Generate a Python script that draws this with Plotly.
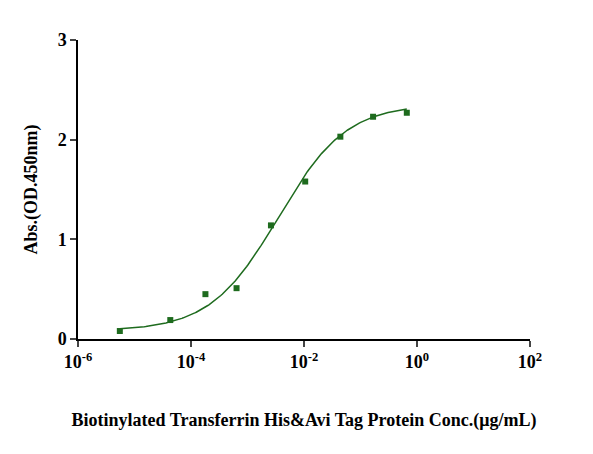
import numpy as np
import plotly.graph_objects as go

conc = [5.5e-6, 4.3e-5, 1.8e-4, 6.4e-4, 2.6e-3, 1.05e-2, 4.4e-2, 0.167, 0.66]
absv = [0.08, 0.19, 0.45, 0.51, 1.14, 1.58, 2.03, 2.23, 2.27]
tickvals = [1e-6, 1e-4, 1e-2, 1e0, 1e2]
ticktext = ["<b>10<sup>-6</sup></b>", "<b>10<sup>-4</sup></b>", "<b>10<sup>-2</sup></b>",
            "<b>10<sup>0</sup></b>", "<b>10<sup>2</sup></b>"]
ytickvals = [0, 1, 2, 3]
yticktext = ["<b>0</b>", "<b>1</b>", "<b>2</b>", "<b>3</b>"]

# 4PL fit parameters (estimated)
bottom, top, ec50, hill = 0.08, 2.36, 3.5e-3, 0.72
xf = np.logspace(np.log10(conc[0]), np.log10(conc[-1]), 200)
yf = bottom + (top - bottom) / (1 + (ec50 / xf) ** hill)

green = "#1e6b1e"
fig = go.Figure()
fig.add_trace(go.Scatter(x=xf, y=yf, mode="lines", line=dict(color=green, width=1.5), showlegend=False))
fig.add_trace(go.Scatter(x=conc, y=absv, mode="markers",
                         marker=dict(symbol="square", size=6, color=green), showlegend=False))
font = dict(family="Liberation Serif", size=18, color="black")
fig.update_layout(
    width=593, height=454, margin=dict(l=70, r=71, t=32, b=123),
    plot_bgcolor="white", paper_bgcolor="white", font=font,
    xaxis=dict(type="log", range=[-6, 2], tickvals=tickvals, ticktext=ticktext,
               showline=True, linecolor="black", linewidth=1.5, ticks="outside",
               ticklen=6, tickwidth=1.5, showgrid=False, zeroline=False,
               title=dict(text="<b>Biotinylated Transferrin His&Avi Tag Protein Conc.(μg/mL)</b>",
                          font=dict(family="Liberation Serif", size=18), standoff=42),
               tickfont=dict(family="Liberation Serif", size=18)),
    yaxis=dict(range=[0, 3], tickvals=ytickvals, ticktext=yticktext, showline=True, linecolor="black",
               linewidth=1.5, ticks="outside", ticklen=6, tickwidth=1.5,
               showgrid=False, zeroline=False,
               title=dict(text="<b>Abs.(OD.450nm)</b>", font=dict(family="Liberation Serif", size=18)),
               tickfont=dict(family="Liberation Serif", size=18)),
)
fig.write_html("out.html")
